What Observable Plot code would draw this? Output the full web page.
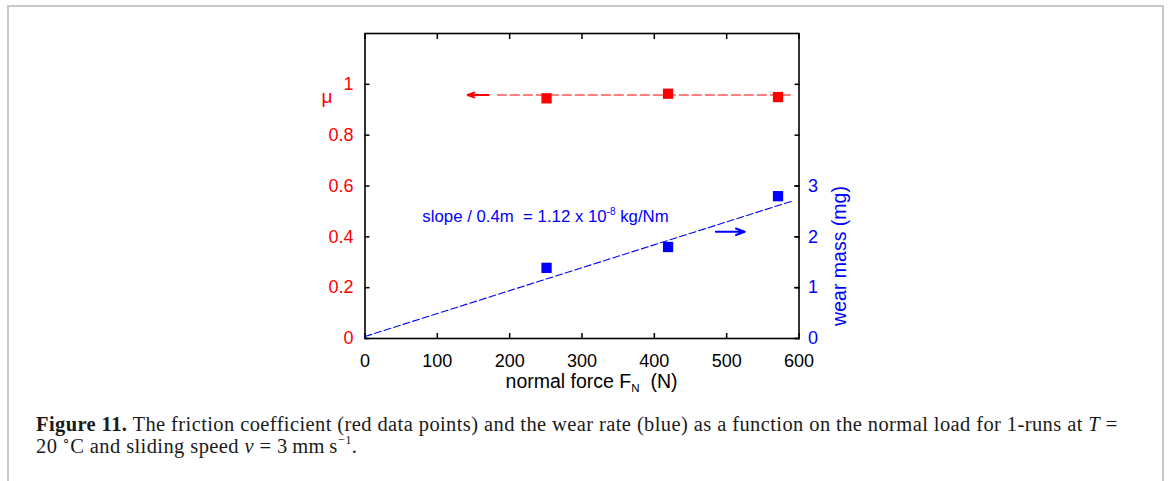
<!DOCTYPE html>
<html><head><meta charset="utf-8">
<script src="https://cdn.jsdelivr.net/npm/d3@7"></script>
<script src="https://cdn.jsdelivr.net/npm/@observablehq/plot@0.6"></script>
<style>
html,body{margin:0;padding:0;background:#fff;width:1168px;height:481px;overflow:hidden;}
#border{position:absolute;left:7px;top:5px;width:1157px;height:540px;border:2px solid #c8c8c8;box-sizing:border-box;}
#chart{position:absolute;left:0;top:0;}
#caption{position:absolute;left:36px;top:412.5px;font-family:"Liberation Serif","Times New Roman",serif;font-size:20.5px;letter-spacing:0.4px;line-height:22.8px;color:#1a1a1a;white-space:nowrap;}
#caption sup{font-size:12.5px;line-height:0;position:relative;top:-1px;}
</style></head><body>
<div id="border"></div>
<div id="chart"></div>
<div id="caption"><b>Figure 11.</b> The friction coefficient (red data points) and the wear rate (blue) as a function on the normal load for 1-runs at <i>T</i> =<br>20&#8201;<sup>∘</sup>C and sliding speed <i>v</i> = 3&#8201;mm&#8201;s<sup>−1</sup>.</div>
<script>
// ---- data ----
const normalForce   = [251, 419, 571];        // N
const frictionCoeff = [0.945, 0.963, 0.950];  // mu
const wearMass      = [1.39, 1.80, 2.80];     // mg

const frictionFitForce = [183, 588];
const frictionFitMu    = [0.958, 0.958];
const wearFitForce     = [0, 590];
const wearFitMass      = [0.04, 2.70];

const frictionArrow = {x1: 171, x2: 142, y: 0.958};  // points to left axis
const wearArrow     = {x1: 485, x2: 525, y: 2.10};   // points to right axis (mg)

const xTicks    = [0, 100, 200, 300, 400, 500, 600];
const muTicks   = [0, 0.2, 0.4, 0.6, 0.8, 1];
const wearTicks = [0, 1, 2, 3];

const xTitle = "normal force F", xTitleSub = "N", xTitleUnit = "  (N)";
const muTitle = "μ";
const wearTitle = "wear mass (mg)";
const slopeText = "slope / 0.4m  = 1.12 x 10", slopeExp = "-8", slopeUnit = " kg/Nm";

// right axis: 6 mg spans the same height as mu = 1.2
const mgToMu = 0.2;

const points = normalForce.map((f, i) => ({f, mu: frictionCoeff[i], wear: wearMass[i]}));
const frictionFit = frictionFitForce.map((f, i) => ({f, mu: frictionFitMu[i]}));
const wearFit = wearFitForce.map((f, i) => ({f, wear: wearFitMass[i]}));

const RED = "#ff0000", BLUE = "#0000ff";
const sans = "'Liberation Sans', Arial, Helvetica, sans-serif";
const FS = 18;
const TK = -5;

const plot = Plot.plot({
  width: 1168, height: 400,
  marginLeft: 364.5, marginRight: 369.5, marginTop: 33, marginBottom: 62,
  style: {background: "transparent", fontFamily: sans, fontSize: "18px", overflow: "visible"},
  x: {domain: [0, 600], axis: null},
  y: {domain: [0, 1.2], axis: null},
  marks: [
    Plot.axisX(xTicks, {anchor: "bottom", tickSize: TK, tickPadding: 21, stroke: "black", fill: "black", strokeWidth: 1.5, label: null, fontSize: FS, fontFamily: sans, tickFormat: d => String(d)}),
    Plot.axisX(xTicks, {anchor: "top", tickSize: TK, stroke: "black", strokeWidth: 1.5, label: null, tickFormat: () => ""}),
    Plot.axisY(muTicks, {anchor: "left", tickSize: TK, tickPadding: 16.5, stroke: "black", fill: RED, strokeWidth: 1.5, label: null, fontSize: FS, fontFamily: sans, tickFormat: d => String(d)}),
    Plot.axisY(muTicks, {anchor: "right", tickSize: TK, stroke: "black", strokeWidth: 1.5, label: null, tickFormat: () => ""}),
    Plot.axisY(wearTicks.map(w => w * mgToMu), {anchor: "right", tickSize: TK, tickPadding: 14, stroke: "black", fill: BLUE, strokeWidth: 1.5, label: null, fontSize: FS, fontFamily: sans, tickFormat: d => String(Math.round(d / mgToMu))}),
    Plot.frame({stroke: "black", strokeWidth: 1.6}),
    // friction
    Plot.line(frictionFit, {x: "f", y: "mu", stroke: RED, strokeWidth: 1.2, strokeDasharray: "9,4"}),
    Plot.arrow([frictionArrow], {x1: "x1", x2: "x2", y1: "y", y2: "y", stroke: RED, strokeWidth: 2, headLength: 7, headAngle: 40}),
    Plot.dot(points, {x: "f", y: "mu", symbol: "square", r: 5.8, fill: RED, stroke: null}),
    // wear
    Plot.line(wearFit, {x: "f", y: d => d.wear * mgToMu, stroke: BLUE, strokeWidth: 1.1, strokeDasharray: "7,3"}),
    Plot.arrow([wearArrow], {x1: "x1", x2: "x2", y1: d => d.y * mgToMu, y2: d => d.y * mgToMu, stroke: BLUE, strokeWidth: 2, headLength: 7, headAngle: 40}),
    Plot.dot(points, {x: "f", y: d => d.wear * mgToMu, symbol: "square", r: 5.8, fill: BLUE, stroke: null})
  ]
});
document.getElementById("chart").appendChild(plot);

const xs = plot.scale("x"), ys = plot.scale("y");
const svg = d3.select(plot);
const x0 = xs.apply(0), x1 = xs.apply(600), yTop = ys.apply(1.2), yBot = ys.apply(0);

// mu label (left of the "1" tick label)
svg.append("text").attr("x", x0 - 43).attr("y", ys.apply(0.95) + 6)
  .attr("text-anchor", "start").attr("font-family", sans).attr("font-size", 19)
  .attr("fill", RED).text(muTitle);

// right axis title, rotated
svg.append("text")
  .attr("transform", `translate(${x1 + 47},${yBot - 82}) rotate(-90)`)
  .attr("text-anchor", "middle").attr("font-family", sans).attr("font-size", 19.5)
  .attr("fill", BLUE).text(wearTitle);

// x title with subscript
const xt = svg.append("text")
  .attr("x", (x0 + x1) / 2 + 10).attr("y", yBot + 50)
  .attr("text-anchor", "middle").attr("font-family", sans).attr("font-size", 19.5)
  .attr("fill", "black").style("white-space", "pre");
xt.append("tspan").text(xTitle);
xt.append("tspan").attr("font-size", 11.5).attr("dy", 4).text(xTitleSub);
xt.append("tspan").attr("dy", -4).text(xTitleUnit);

// slope annotation with superscript
const st = svg.append("text")
  .attr("x", xs.apply(80)).attr("y", ys.apply(0.457))
  .attr("text-anchor", "start")
  .attr("font-family", sans).attr("font-size", 16.8).attr("fill", BLUE).style("white-space", "pre");
st.append("tspan").text(slopeText);
st.append("tspan").attr("font-size", 10).attr("dy", -7).text(slopeExp);
st.append("tspan").attr("dy", 7).text(slopeUnit);
</script>
</body></html>
